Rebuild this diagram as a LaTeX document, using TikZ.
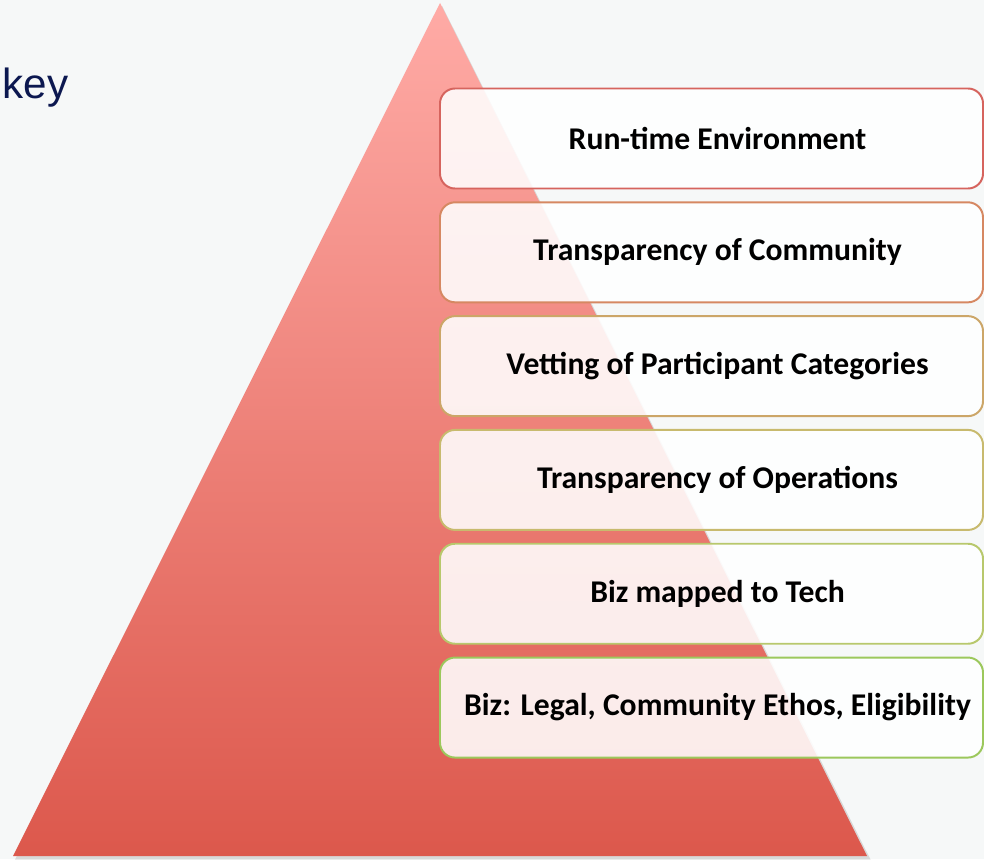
\documentclass[tikz,border=0pt]{standalone}
\usepackage{fontspec}
\newfontfamily\boxfont{Carlito}
\newfontfamily\keyfont{Liberation Sans}
\usepackage{tikz}
\usetikzlibrary{positioning, backgrounds}

\definecolor{bgGray}{RGB}{246,248,248}
\definecolor{triTop}{RGB}{255,171,166}
\definecolor{triBot}{RGB}{220,88,76}
\definecolor{keyBlue}{RGB}{12,24,80}
\definecolor{edgeA}{RGB}{214,100,94}
\definecolor{edgeB}{RGB}{214,136,98}
\definecolor{edgeC}{RGB}{204,166,104}
\definecolor{edgeD}{RGB}{200,186,110}
\definecolor{edgeE}{RGB}{184,200,108}
\definecolor{edgeF}{RGB}{156,200,92}

\begin{document}
\begin{tikzpicture}[
    % GLOBAL CFG
    font=\boxfont\bfseries\fontsize{22.5}{26}\selectfont,
    % Styles
    layer/.style={% For the pyramid levels
        rectangle,
        rounded corners=0.375cm,
        draw,
        line width=1.4pt,
        fill=white,
        fill opacity=0.88,
        text opacity=1,
        minimum width=13.575cm,
        minimum height=2.5cm,
        execute at begin node=\hspace{0.3cm},
        },
    keylabel/.style={% The heading on the left
        font=\keyfont\fontsize{30}{34}\selectfont,
        text=keyBlue,
        anchor=base west,
        inner sep=0pt,
        },
    ]

    % Fix the page size
    \useasboundingbox[fill=bgGray] (0,0) rectangle (24.6,-21.475);

    % Draw the pyramid named tri
    \coordinate (apex) at (11,-0.075);
    \coordinate (baseL) at (0.325,-21.4);
    \coordinate (baseR) at (21.675,-21.4);
    \fill[black, opacity=0.12] ([xshift=1.5pt,yshift=-2pt]apex) -- ([xshift=1.5pt,yshift=-2.5pt]baseL) -- ([xshift=2.5pt,yshift=-2.5pt]baseR) -- cycle;
    \shade[top color=triTop, bottom color=triBot] (apex) -- (baseL) -- (baseR) -- cycle;

    % Heading
    \node[keylabel] (key) at (0.06,-2.45) {key};

    % Draw levels named box#
    \node [layer, draw=edgeA] (box1) at (17.7875,-3.4625) {Run-time Environment};
    \node [layer, draw=edgeB, below=0.296cm of box1] (box2) {Transparency of Community};
    \node [layer, draw=edgeC, below=0.296cm of box2] (box3) {Vetting of Participant Categories};
    \node [layer, draw=edgeD, below=0.296cm of box3] (box4) {Transparency of Operations};
    \node [layer, draw=edgeE, below=0.296cm of box4] (box5) {Biz mapped to Tech};
    \node [layer, draw=edgeF, below=0.296cm of box5] (box6) {Biz: Legal, Community Ethos, Eligibility};

\end{tikzpicture}
\end{document}
